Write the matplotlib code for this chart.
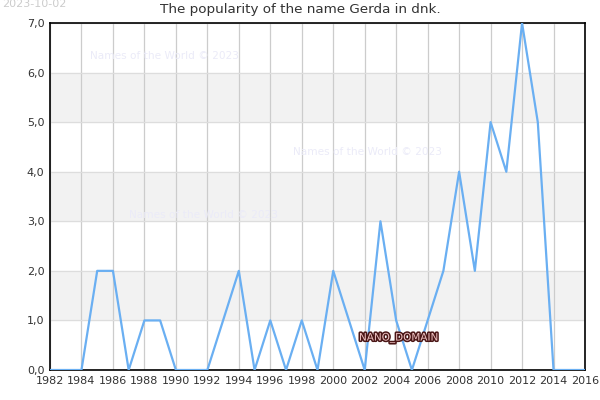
import matplotlib
matplotlib.use("Agg")
import matplotlib.pyplot as plt
import matplotlib.patheffects as pe
from matplotlib.ticker import FuncFormatter

# yearly popularity of the name Gerda (dnk)
years = list(range(1982, 2017))
values = [0, 0, 0, 2, 2, 0, 1, 1, 0, 0,
          0, 1, 2, 0, 1, 0, 1, 0, 2, 1,
          0, 3, 1, 0, 1, 2, 4, 2, 5, 4,
          7, 5, 0, 0, 0]
x_ticks = list(range(1982, 2017, 2))
y_ticks = list(range(0, 8))

fig = plt.figure(figsize=(6, 4), dpi=100)
ax = fig.add_axes([50 / 600, 30 / 400, 535 / 600, 347 / 400])

# alternating bands
for lo in (1, 3, 5):
    ax.axhspan(lo, lo + 1, color="#f2f2f2", zorder=0)

ax.plot(years, values, color="#6aaff2", lw=1.6, zorder=3)

ax.set_xlim(1982, 2016)
ax.set_ylim(0, 7)
ax.set_xticks(x_ticks)
ax.set_yticks(y_ticks)
ax.yaxis.set_major_formatter(FuncFormatter(lambda v, p: f"{v:.1f}".replace(".", ",")))
ax.tick_params(labelsize=8, colors="#333333", length=0, pad=4)
ax.grid(axis="x", color="#cccccc", lw=0.9, zorder=1)
ax.grid(axis="y", color="#dddddd", lw=0.9, zorder=1)
ax.set_axisbelow(True)
for s in ax.spines.values():
    s.set_color("black")
    s.set_linewidth(1.2)

fig.text(0.5, 1 - 9 / 400, "The popularity of the name Gerda in dnk.",
         fontsize=9.7, color="#333333", ha="center", va="center")

fig.text(2 / 600, 1 - 4 / 400, "2023-10-02", fontsize=8, color="#cccccc", va="center")

wm_color = "#ebebf8"
for xp, yp in [(90, 56), (293, 152), (129, 215)]:
    fig.text(xp / 600, 1 - yp / 400, "Names of the World © 2023", fontsize=7.6,
             color=wm_color, va="center", zorder=5)

fig.text(359 / 600, 1 - 338 / 400, "NANO_DOMAIN", fontsize=7.5, color="#f0c4c4",
         va="center", zorder=6,
         path_effects=[pe.withStroke(linewidth=2.2, foreground="#4a1616")])

fig.savefig("out.png", dpi=100)
